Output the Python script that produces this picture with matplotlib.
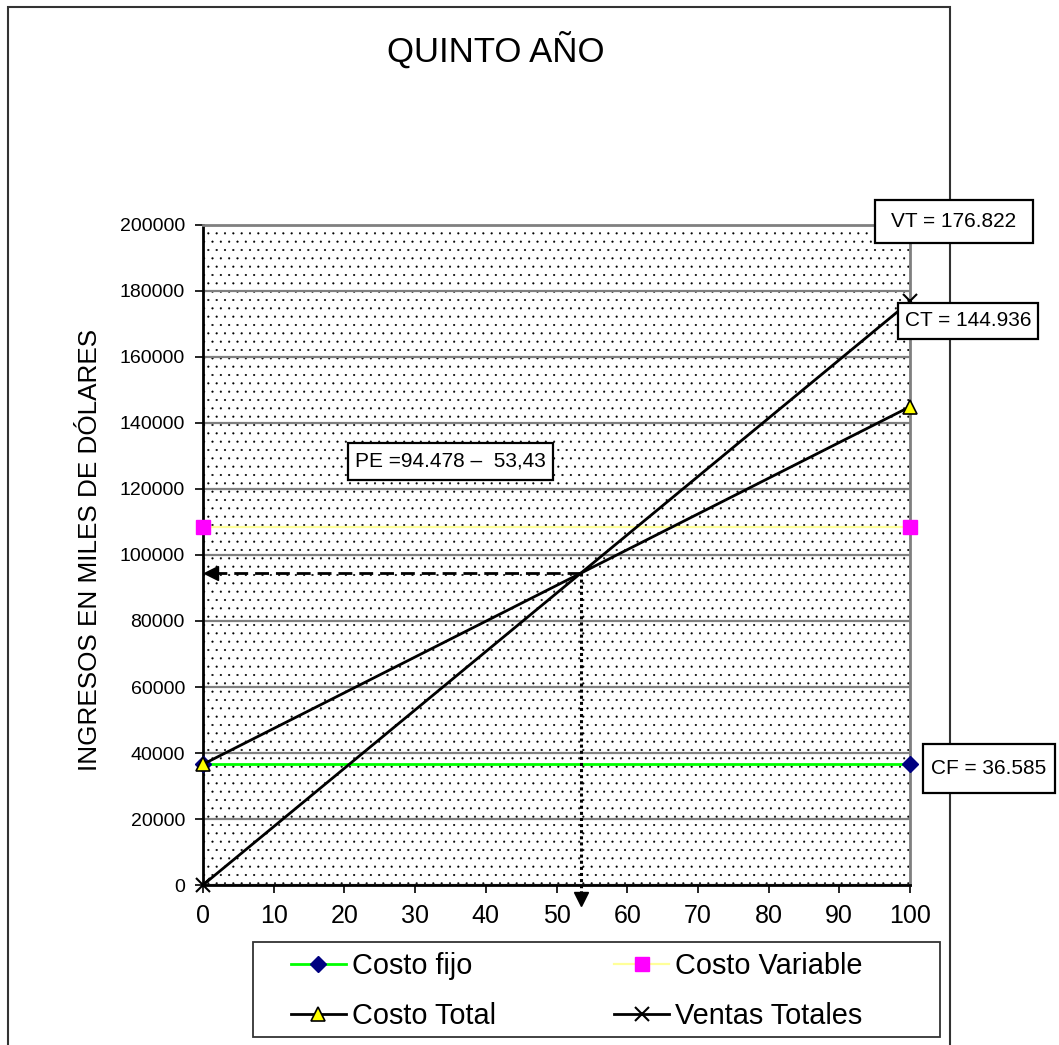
import numpy as np
import matplotlib
matplotlib.use('Agg')
import matplotlib.pyplot as plt
from matplotlib.patches import Rectangle

plt.rcParams['font.family'] = ['Liberation Sans', 'DejaVu Sans']
plt.rcParams['hatch.linewidth'] = 0.3

# datos del quinto año (miles de dolares)
pct = [0, 100]
costo_fijo = [36585, 36585]
costo_variable = [108351, 108351]
costo_total = [36585, 144936]
ventas_totales = [0, 176822]
labels = ['Costo fijo', 'Costo Variable', 'Costo Total', 'Ventas Totales']
x_ticks = list(range(0, 101, 10))
y_ticks = list(range(0, 200001, 20000))
titulo = 'QUINTO AÑO'
ylabel = 'INGRESOS EN MILES DE DÓLARES'
txt_vt = 'VT = 176.822'
txt_ct = 'CT = 144.936'
txt_cf = 'CF = 36.585'
txt_pe = 'PE =94.478 \u2013  53,43'

# punto de equilibrio (interseccion CT - VT)
m_ct = (costo_total[1] - costo_total[0]) / (pct[1] - pct[0])
m_vt = (ventas_totales[1] - ventas_totales[0]) / (pct[1] - pct[0])
x_pe = (costo_total[0] - ventas_totales[0]) / (m_vt - m_ct)
y_pe = ventas_totales[0] + m_vt * x_pe

W, H = 1059, 1045
def fx(p): return p / W
def fy(p): return 1 - p / H

fig = plt.figure(figsize=(W / 100, H / 100), dpi=100)
ax = fig.add_axes([fx(203), fy(885), (910 - 203) / W, (885 - 225) / H])

# fondo punteado
ax.add_patch(Rectangle((0, 0), 1, 1, transform=ax.transAxes, facecolor='white',
                       edgecolor='black', hatch='..', lw=0, zorder=0))
ax.set_axisbelow(True)
ax.yaxis.grid(True, color='#808080', lw=1.6)

l_cf, = ax.plot(pct, costo_fijo, color='#00FF00', lw=2, marker='D', ms=8,
                mfc='#000080', mec='#000080', clip_on=False, zorder=3)
l_cv, = ax.plot(pct, costo_variable, color='#FFFF99', lw=1.6, marker='s', ms=10,
                mfc='#FF00FF', mec='#FF00FF', clip_on=False, zorder=3)
l_ct, = ax.plot(pct, costo_total, color='black', lw=2, marker='^', ms=10,
                mfc='yellow', mec='black', mew=1.2, clip_on=False, zorder=4)
l_vt, = ax.plot(pct, ventas_totales, color='black', lw=2, marker='x', ms=10,
                mew=1.5, clip_on=False, zorder=4)

# flechas del punto de equilibrio
ax.plot([x_pe, 1.2], [y_pe, y_pe], color='black', lw=2, ls=(0, (5, 2.5)), zorder=5)
ax.plot([1.1], [y_pe], marker='<', ms=10, color='black', zorder=5)
ax.plot([x_pe, x_pe], [y_pe, -3000], color='black', lw=2.2, ls=(0, (1, 1)),
        clip_on=False, zorder=5)
ax.plot([x_pe], [-4300], marker='v', ms=10, color='black', clip_on=False, zorder=5)

ax.set_xlim(0, 100)
ax.set_ylim(0, 200000)
ax.set_xticks(x_ticks)
ax.set_yticks(y_ticks)
ax.tick_params(axis='x', labelsize=18, length=6, width=1.2, pad=8, direction='out')
ax.tick_params(axis='y', labelsize=14, length=6, width=1.2, pad=7, direction='out')
for s in ['left', 'bottom']:
    ax.spines[s].set_color('black')
    ax.spines[s].set_linewidth(2)
for s in ['top', 'right']:
    ax.spines[s].set_color('#808080')
    ax.spines[s].set_linewidth(2)

fig.text(fx(496), fy(50), titulo, fontsize=25, ha='center', va='center')
fig.text(fx(90), fy(550), ylabel, fontsize=18.8, rotation=90, ha='center', va='center')

# marco exterior
fig.add_artist(Rectangle((fx(8), fy(1060)), (950 - 8) / W, (1060 - 7) / H,
                         transform=fig.transFigure, fill=False, ec='#333333',
                         lw=1.5, zorder=0.5))

def caja(x0, y0, x1, y1, texto):
    fig.add_artist(Rectangle((fx(x0), fy(y1)), (x1 - x0) / W, (y1 - y0) / H,
                             transform=fig.transFigure, facecolor='white',
                             ec='black', lw=1.6, zorder=2))
    fig.text(fx((x0 + x1) / 2), fy((y0 + y1) / 2), texto, fontsize=15,
             ha='center', va='center', zorder=3)

caja(875, 200, 1033, 243, txt_vt)
caja(898, 303, 1038, 339, txt_ct)
caja(923, 744, 1055, 793, txt_cf)
caja(348, 443, 553, 480, txt_pe)

# leyenda
fig.add_artist(Rectangle((fx(253), fy(1037)), (940 - 253) / W, (1037 - 942) / H,
                         transform=fig.transFigure, facecolor='white',
                         ec='#333333', lw=1.3, zorder=1))
leg = fig.legend([l_cf, l_ct, l_cv, l_vt], [labels[0], labels[2], labels[1], labels[3]],
                 ncol=2, frameon=False, fontsize=20.8, handlelength=1.9,
                 handletextpad=0.2, columnspacing=4.1, labelspacing=0.76,
                 borderpad=0, borderaxespad=0, loc='upper left',
                 bbox_to_anchor=(fx(291), fy(952)), bbox_transform=fig.transFigure)
leg.set_zorder(3)

fig.savefig('out.png', dpi=100)
